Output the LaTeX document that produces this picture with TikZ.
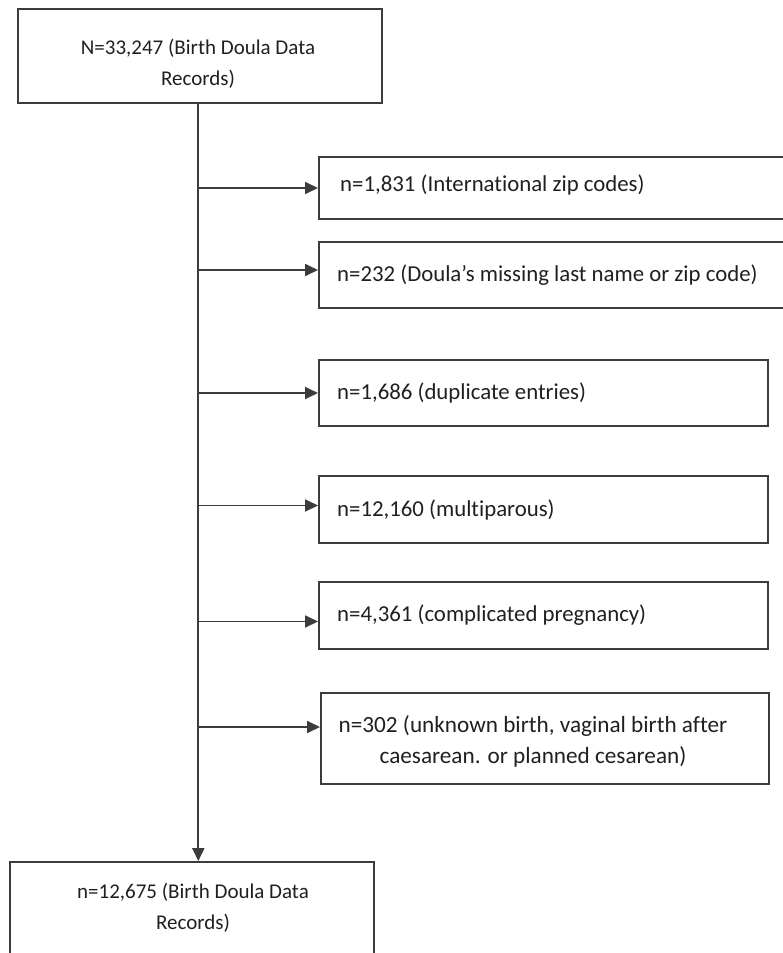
\documentclass[tikz,border=0pt]{standalone}
\usepackage{fontspec}
\setmainfont{Carlito}[Ligatures=NoCommon]
\usetikzlibrary{arrows.meta,positioning}
\definecolor{linegray}{HTML}{3C3C3C}
\definecolor{txtgray}{HTML}{202020}
\tikzset{%
  % Specifications for style of nodes:
       box/.style = {rectangle, draw=linegray, line width=1.8pt, fill=white, inner sep=0pt},
       lbl/.style = {inner sep=0pt, text=txtgray, align=left,
                     font=\fontsize{22.8}{31}\selectfont},
  % narrower text of the two record boxes
    reclbl/.style = {lbl, align=center, font=\fontsize{21}{31}\selectfont},
  % arrows of the flow
       pil/.style = {-{Triangle[length=13pt,width=12pt]}, draw=linegray, line width=1.8pt}
}

\begin{document}
\begin{tikzpicture}[x=1pt, y=-1pt]
\useasboundingbox[fill=white] (0,0) rectangle (782,953);
\coordinate (trunk) at (198.3,0);

% all records
\node (top)  [box, minimum width=364pt, minimum height=94pt] at (200.3,55.8) {};
\node (toptxt) [reclbl] at (198,64) {N=33,247 (Birth Doula Data\\Records)};

% excluded records
\node (ex1) [box, anchor=west, minimum width=472pt, minimum height=62pt] at (318,188) {};
\node (ex2) [box, anchor=west, minimum width=472pt, minimum height=66pt] at (318,275) {};
\node (ex3) [box, anchor=west, minimum width=449pt, minimum height=66pt] at (318,393) {};
\node (ex4) [box, anchor=west, minimum width=449pt, minimum height=67pt] at (318,509.5) {};
\node (ex5) [box, anchor=west, minimum width=449pt, minimum height=67pt] at (318,615.5) {};
\node (ex6) [box, anchor=west, minimum width=448pt, minimum height=91pt] at (320,738.5) {};

\node (ex1txt) [lbl, right=22pt of ex1.west, yshift=3pt] {n=1,831 (International zip codes)};
\node (ex2txt) [lbl, right=19pt of ex2.west] {n=232 (Doula’s missing last name or zip code)};
\node (ex3txt) [lbl, right=19pt of ex3.west] {n=1,686 (duplicate entries)};
\node (ex4txt) [lbl, right=19pt of ex4.west] {n=12,160 (multiparous)};
\node (ex5txt) [lbl, right=19pt of ex5.west] {n=4,361 (complicated pregnancy)};
\node (ex6txt) [lbl, align=center, font=\fontsize{23.2}{31}\selectfont] at (533,741)
  {n=302 (unknown birth, vaginal birth after\\caesarean. or planned cesarean)};

% remaining records
\node (final) [box, minimum width=364pt, minimum height=94pt] at (192,909) {};
\node (finaltxt) [reclbl] at (193,908) {n=12,675 (Birth Doula Data\\Records)};

\draw[pil] (top.south -| trunk) -- (final.north -| trunk);
\foreach \b/\s in {ex1/0,ex2/5,ex3/0,ex4/4,ex5/-6,ex6/11.5}{
  \coordinate (\b in) at ([yshift=\s pt]\b.west);
  \draw[pil] (\b in -| trunk) -- (\b in);
}

\end{tikzpicture}
\end{document}
